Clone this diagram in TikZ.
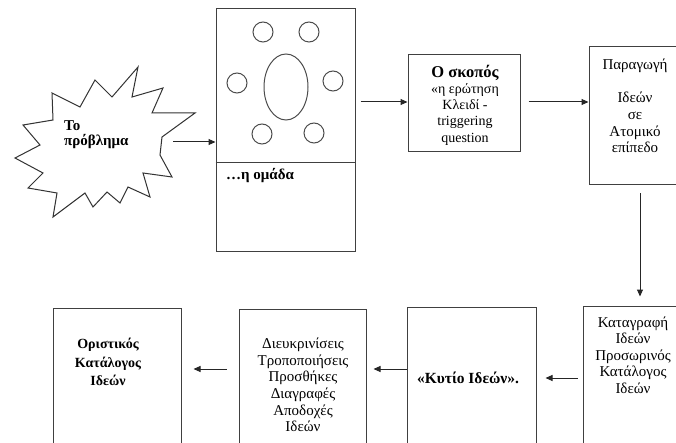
\documentclass[tikz,border=0pt]{standalone}
\usepackage{fontspec}
\setmainfont{Liberation Serif}
\usetikzlibrary{arrows.meta,shapes.geometric}

\tikzset{
  box/.style={draw=black!75, line width=1pt, rectangle, inner sep=0pt},
  ring/.style={draw=black!70, line width=1pt, circle, inner sep=0pt, minimum size=20pt},
  arr/.style={draw=black!85, line width=1pt, -{Triangle[length=7pt,width=6pt]}},
  txt/.style={align=center, inner sep=0pt, font=\fontsize{15}{16.6}\selectfont},
  btxt/.style={align=center, inner sep=0pt, font=\fontsize{14}{18.5}\selectfont\bfseries},
}

\begin{document}
\begin{tikzpicture}[x=1pt, y=-1pt]
\useasboundingbox (0,0) rectangle (676,443);
\clip (0,0) rectangle (676,443);

% the problem: a jagged burst
\draw[draw=black!80, line width=1pt, fill=white]
  (138,67) -- (132,97) -- (163,88) -- (152,113) -- (195,113) -- (162,137)
  -- (160,155) -- (172,177) -- (143,173) -- (150,197) -- (128,187)
  -- (120,203) -- (107,192) -- (93,207) -- (85,193) -- (53,217) -- (57,193)
  -- (28,188) -- (43,173) -- (15,158) -- (40,145) -- (23,125) -- (53,120)
  -- (52,93) -- (80,107) -- (95,80) -- (112,97) -- cycle;
\node[inner sep=0pt, anchor=north west, align=left,
      font=\fontsize{15}{15.5}\selectfont\bfseries] (prob) at (64,120) {Το\\πρόβλημα};
\coordinate (probR) at (173,142);

% the group: seating plan above, caption below
\node[box, minimum width=139pt, minimum height=243pt] (grp) at (285.5,130.5) {};
\draw[draw=black!75, line width=1pt] (grp.west |- 0,163) -- (grp.east |- 0,163);
\node[ring] (c1) at (263,32) {};
\node[ring] (c2) at (309,32) {};
\node[ring] (c3) at (237,83) {};
\node[ring] (c4) at (333,81) {};
\node[ring] (c5) at (262,134) {};
\node[ring] (c6) at (314,133) {};
\node[draw=black!70, line width=1pt, ellipse, inner sep=0pt,
      minimum width=44pt, minimum height=66pt] (tbl) at (286,87) {};
\node[inner sep=0pt, anchor=west, font=\fontsize{15}{15}\selectfont\bfseries]
  (grpT) at (226,176) {…η ομάδα};

% the goal
\node[box, minimum width=112pt, minimum height=97pt] (goal) at (464,103.5) {};
\node[align=center, inner sep=0pt, font=\fontsize{14}{16.2}\selectfont] (goalT) at (465,105)
  {{\fontsize{16.5}{19}\selectfont\bfseries Ο σκοπός}\\«η ερώτηση\\Κλειδί -\\triggering\\question};

% individual idea generation
\node[box, minimum width=94pt, minimum height=138pt] (prod) at (636,116) {};
\node[txt] (prodT) at (635,106) {Παραγωγή\\[16.6pt]Ιδεών\\σε\\Ατομικό\\επίπεδο};

% recording, provisional list
\node[box, minimum width=102pt, minimum height=164pt] (rec) at (634,388) {};
\node[txt] (recT) at (633,355) {Καταγραφή\\Ιδεών\\Προσωρινός\\Κατάλογος\\Ιδεών};

% idea box
\node[box, minimum width=129pt, minimum height=163pt] (kbox) at (471.5,388.5) {};
\node[btxt, font=\fontsize{15.5}{18}\selectfont\bfseries] (kboxT) at (468,378) {«Κυτίο Ιδεών».};

% clarification and editing
\node[box, minimum width=127pt, minimum height=161pt] (clar) at (302.5,389.5) {};
\node[txt] (clarT) at (303,385)
  {Διευκρινίσεις\\Τροποποιήσεις\\Προσθήκες\\Διαγραφές\\Αποδοχές\\Ιδεών};

% final list
\node[box, minimum width=128pt, minimum height=162pt] (final) at (117,389) {};
\node[btxt] (finalT) at (108,362) {Οριστικός\\Κατάλογος\\Ιδεών};

% flow
\draw[arr] (probR) -- (grp.west |- probR);
\draw[arr] ([xshift=5pt]grp.east |- 0,102) -- (goal.west |- 0,102);
\draw[arr] ([xshift=8pt]goal.east |- 0,102) -- (prod.west |- 0,102);
\draw[arr] ([shift={(4pt,-8pt)}]prod.south) -- ([shift={(6pt,9pt)}]rec.north);
\draw[arr] ([xshift=-5pt]rec.west |- 0,378) -- ([xshift=9pt]kbox.east |- 0,378);
\draw[arr] (kbox.west |- 0,369) -- ([xshift=7pt]clar.east |- 0,369);
\draw[arr] ([xshift=-12pt]clar.west |- 0,369) -- ([xshift=12pt]final.east |- 0,369);
\end{tikzpicture}
\end{document}
